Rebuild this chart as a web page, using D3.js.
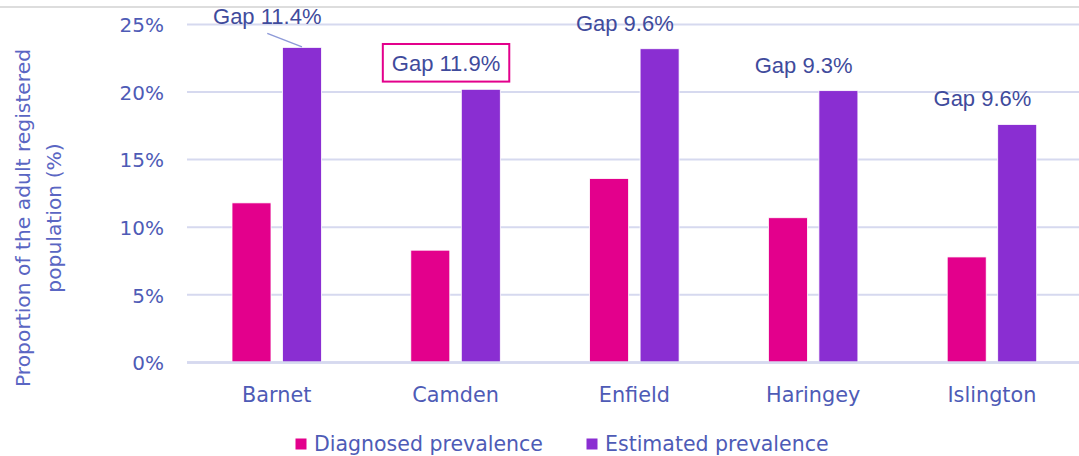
<!DOCTYPE html>
<html>
<head>
<meta charset="utf-8">
<script src="https://cdn.jsdelivr.net/npm/d3@7"></script>
<style>
  html, body { margin: 0; padding: 0; background: #fff; }
  svg { display: block; }
</style>
</head>
<body>
<svg id="chart" width="1079" height="456"></svg>
<script>
// ---- data ----
const categories = ["Barnet", "Camden", "Enfield", "Haringey", "Islington"];
const seriesNames = ["Diagnosed prevalence", "Estimated prevalence"];
const diagnosed = [11.8, 8.3, 13.6, 10.7, 7.8];
const estimated = [23.3, 20.2, 23.2, 20.1, 17.6];
const gapLabels = ["Gap 11.4%", "Gap 11.9%", "Gap 9.6%", "Gap 9.3%", "Gap 9.6%"];
const yTicks = [0, 5, 10, 15, 20, 25];
const yTitleLines = ["Proportion of the adult registered", "population (%)"];

// ---- styles ----
const colors = { "Diagnosed prevalence": "#E3008C", "Estimated prevalence": "#8A2ED2" };
const textColor = "#4E5BB6";
const annColor = "#3F4B9C";
const gridColor = "#D6D9EF";
const tickFont = "'DejaVu Sans', sans-serif";
const annFont = "'Liberation Sans', Arial, sans-serif";

const svg = d3.select("#chart");

// top border line
svg.append("line").attr("x1", 0).attr("x2", 1079).attr("y1", 7).attr("y2", 7)
  .attr("stroke", "#DDDDDD").attr("stroke-width", 2);

const x0 = d3.scaleBand().domain(categories).range([187.35, 1081.35]).paddingInner(0).paddingOuter(0);
const bw = x0.bandwidth();
const x1 = d3.scaleBand().domain(seriesNames).range([(bw - 89.5) / 2, (bw + 89.5) / 2]).paddingInner(0.2277);
const y = d3.scaleLinear().domain([0, 25]).range([362.4, 24.4]);

// gridlines + y tick labels via axis
const yAxis = d3.axisLeft(y).tickValues(yTicks).tickFormat(d => d + "%").tickSize(0).tickPadding(0);
const gy = svg.append("g").attr("transform", "translate(164,0)").call(yAxis);
gy.select(".domain").remove();
gy.selectAll("text").attr("fill", textColor).attr("font-family", tickFont)
  .attr("font-size", "20px").attr("dy", "0.36em").attr("x", 0);

svg.append("g").selectAll("line").data(yTicks).join("line")
  .attr("x1", 187).attr("x2", 1079)
  .attr("y1", d => y(d)).attr("y2", d => y(d))
  .attr("stroke", gridColor).attr("stroke-width", d => d === 0 ? 2.5 : 2);

// bars
const rows = categories.map((c, i) => ({ cat: c, vals: [diagnosed[i], estimated[i]] }));
const groups = svg.append("g").selectAll("g").data(rows).join("g")
  .attr("transform", d => `translate(${x0(d.cat)},0)`);
groups.selectAll("rect").data(d => seriesNames.map((s, j) => ({ s, v: d.vals[j] }))).join("rect")
  .attr("x", d => x1(d.s))
  .attr("width", x1.bandwidth())
  .attr("y", d => y(d.v))
  .attr("height", d => y(0) - y(d.v))
  .attr("fill", d => colors[d.s])
  .attr("stroke", "#fff").attr("stroke-width", 0.8);
// redraw baseline on top
svg.append("line").attr("x1", 187).attr("x2", 1079).attr("y1", y(0)).attr("y2", y(0))
  .attr("stroke", gridColor).attr("stroke-width", 2.5);

// category axis
const xAxis = d3.axisBottom(x0).tickSize(0).tickPadding(0);
const gx = svg.append("g").attr("transform", "translate(0,401.5)").call(xAxis);
gx.select(".domain").remove();
gx.selectAll("text").attr("fill", textColor).attr("font-family", tickFont)
  .attr("font-size", "20.8px").attr("dy", 0).attr("y", 0);

// y title
const yt = svg.append("text").attr("transform", "translate(0,218) rotate(-90)")
  .attr("text-anchor", "middle").attr("fill", "#5A66C3")
  .attr("font-family", tickFont).attr("font-size", "20.3px");
yTitleLines.forEach((t, i) => {
  yt.append("tspan").attr("x", 0).attr("y", i === 0 ? 30 : 61).text(t);
});

// gap annotations
categories.forEach((c, i) => {
  const cx = x0(c) + bw / 2 - 9.5;
  let by = y(estimated[i]) - 18;
  if (i === 0) by = y(estimated[i]) - 23.5;
  const t = svg.append("text").attr("x", cx).attr("y", by)
    .attr("text-anchor", "middle").attr("fill", annColor)
    .attr("font-family", annFont).attr("font-size", "22px").text(gapLabels[i]);
  if (i === 0) {
    const ex = x0(c) + x1("Estimated prevalence") + x1.bandwidth() / 2;
    svg.append("line").attr("x1", cx).attr("y1", by + 9.5).attr("x2", ex).attr("y2", y(estimated[i]) - 0.5)
      .attr("stroke", "#8E9AD8").attr("stroke-width", 1.5);
  }
  if (i === 1) {
    const bb = t.node().getBBox();
    svg.append("rect").attr("x", bb.x - 9).attr("y", by - 27.3)
      .attr("width", bb.width + 18).attr("height", 37.6)
      .attr("fill", "none").attr("stroke", "#E3008C").attr("stroke-width", 2);
  }
});

// legend
const legendX = [295.5, 586.5];
const lg = svg.append("g");
seriesNames.forEach((s, i) => {
  lg.append("rect").attr("x", legendX[i]).attr("y", 438.5).attr("width", 11).attr("height", 11)
    .attr("fill", colors[s]);
  lg.append("text").attr("x", legendX[i] + 18.5).attr("y", 451)
    .attr("fill", textColor).attr("font-family", tickFont).attr("font-size", "20.5px").text(s);
});
</script>
</body>
</html>
